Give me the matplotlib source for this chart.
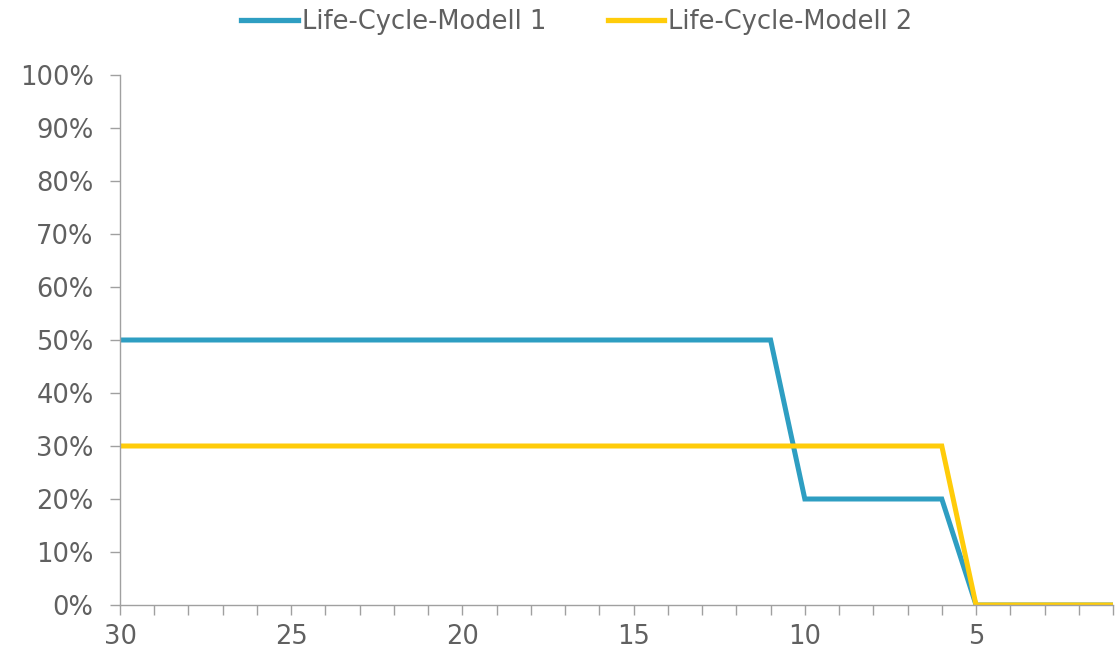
import matplotlib
matplotlib.use("Agg")
import matplotlib.pyplot as plt
from matplotlib.ticker import FuncFormatter, MultipleLocator

years = list(range(30, 0, -1))
modell1 = [0.5 if y >= 11 else (0.2 if y >= 6 else 0.0) for y in years]
modell2 = [0.3 if y >= 6 else 0.0 for y in years]
labels = ["Life-Cycle-Modell 1", "Life-Cycle-Modell 2"]
colors = ["#2E9EC2", "#FFCC0A"]
text_color = "#606060"
axis_color = "#A0A0A0"

fig = plt.figure(figsize=(11.19, 6.52), dpi=100)
ax = fig.add_axes([120/1119, 47/652, (1113-120)/1119, (605-75)/652])

ax.plot(years, modell1, color=colors[0], lw=3.6, label=labels[0], solid_joinstyle="miter")
ax.plot(years, modell2, color=colors[1], lw=3.6, label=labels[1], solid_joinstyle="miter")

ax.set_xlim(30, 1)
ax.set_ylim(0, 1)
ax.set_xticks([30, 25, 20, 15, 10, 5])
ax.set_xticks(years, minor=True)
ax.yaxis.set_major_locator(MultipleLocator(0.1))
ax.yaxis.set_major_formatter(FuncFormatter(lambda v, p: f"{v*100:.0f}%"))

for s in ["top", "right"]:
    ax.spines[s].set_visible(False)
for s in ["left", "bottom"]:
    ax.spines[s].set_color(axis_color)
    ax.spines[s].set_linewidth(1.0)

ax.tick_params(axis="both", which="both", direction="out", color=axis_color,
               labelcolor=text_color, labelsize=18.5, width=1.0)
ax.tick_params(axis="y", length=7, pad=12)
ax.tick_params(axis="x", which="both", length=7, pad=7)

leg = fig.legend(loc="center", bbox_to_anchor=(577/1119, 1 - 22/652), ncol=2,
                 frameon=False, fontsize=18.5, handlelength=2.2, handletextpad=0.15,
                 columnspacing=2.4, labelcolor=text_color)
for h in leg.get_lines():
    h.set_linewidth(3.8)

fig.savefig("out.png", dpi=100, facecolor="white")
